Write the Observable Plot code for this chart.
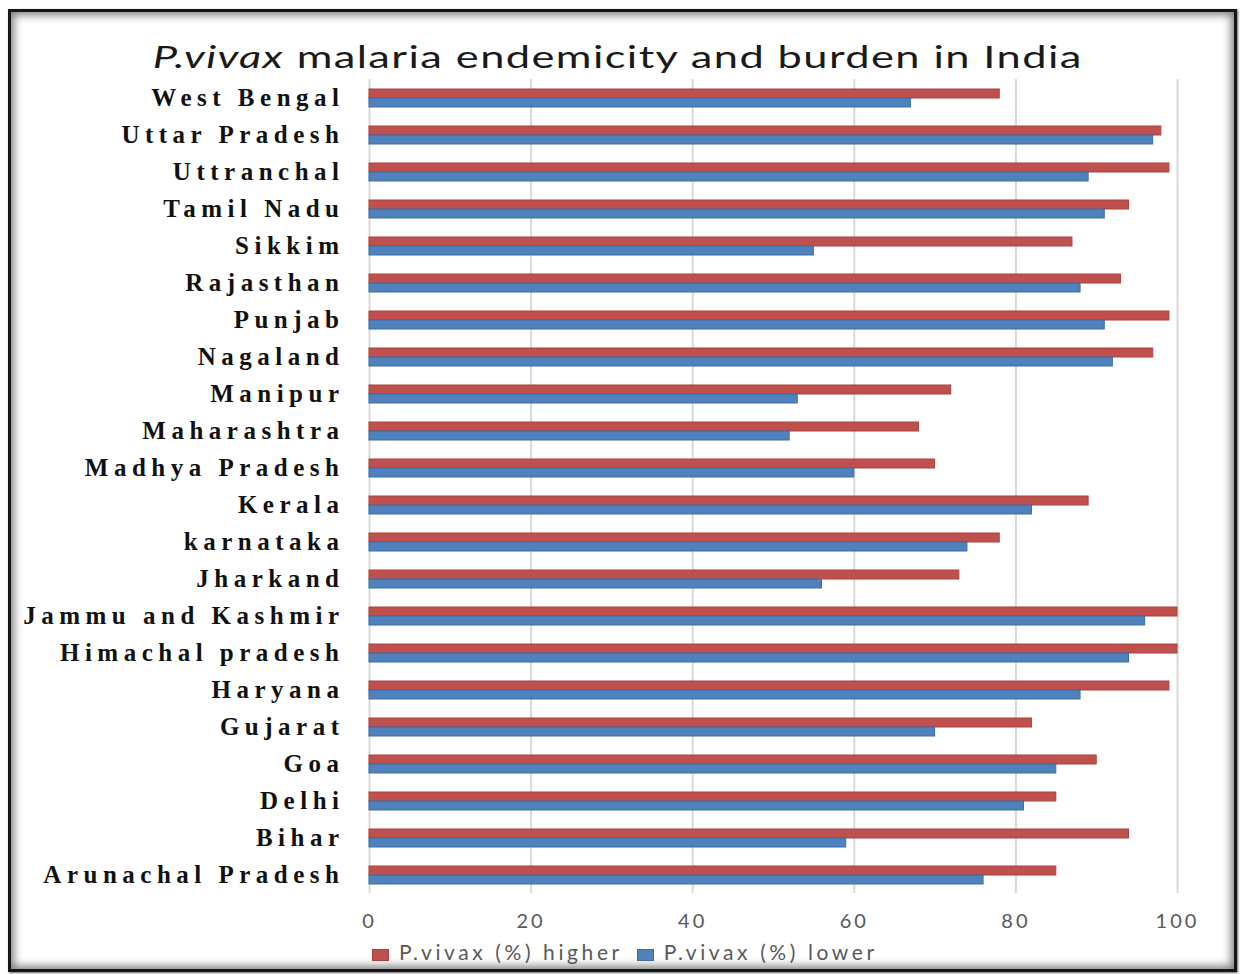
<!DOCTYPE html>
<html>
<head>
<meta charset="utf-8">
<script src="https://cdn.jsdelivr.net/npm/d3@7"></script>
<script src="https://cdn.jsdelivr.net/npm/@observablehq/plot@0.6"></script>
<style>
  html, body { margin: 0; padding: 0; background: #fff; }
  #frame {
    position: absolute; left: 8px; top: 9px; width: 1229px; height: 963px;
    box-sizing: border-box; border: 3px solid #161616;
    box-shadow: inset 0 0 9px 3px rgba(0,0,0,0.5), 1px 1px 2px rgba(0,0,0,0.6);
    background: #fff;
  }
  #title {
    position: absolute; left: 0; top: 36px; width: 1235px; text-align: center;
    font-family: Lato, "Open Sans", sans-serif; font-size: 31px; line-height: 40px;
    letter-spacing: 1px; color: #1a1a1a; white-space: nowrap;
    transform: scaleX(1.4); transform-origin: 617px 0;
  }
  #chart { position: absolute; left: 0; top: 0; }
  #legend {
    position: absolute; left: 372px; top: 940px;
    font-family: Lato, "Open Sans", sans-serif; font-size: 21px; line-height: 24px;
    letter-spacing: 3.6px; color: #595959; white-space: nowrap;
  }
  #legend .sw {
    display: inline-block; width: 17px; height: 12px; margin-right: 10px;
    vertical-align: -1px; box-sizing: border-box;
  }
  #legend .item { margin-right: 14px; }
  g[aria-label="fy-axis tick label"] text { letter-spacing: 5.5px; }
  g[aria-label="x-axis tick label"] text { letter-spacing: 3px; }
</style>
</head>
<body>
<div id="frame"></div>
<div id="chart"></div>
<div id="title"><i>P.vivax</i> malaria endemicity and burden in India</div>
<div id="legend"></div>
<script>
// States, top to bottom
const states = [
  "West Bengal", "Uttar Pradesh", "Uttranchal", "Tamil Nadu", "Sikkim",
  "Rajasthan", "Punjab", "Nagaland", "Manipur", "Maharashtra",
  "Madhya Pradesh", "Kerala", "karnataka", "Jharkand", "Jammu and Kashmir",
  "Himachal pradesh", "Haryana", "Gujarat", "Goa", "Delhi", "Bihar",
  "Arunachal Pradesh"
];

// P. vivax share of malaria cases (%), upper and lower estimates
const higher = [78, 98, 99, 94, 87, 93, 99, 97, 72, 68, 70, 89, 78, 73, 100, 100, 99, 82, 90, 85, 94, 85];
const lower  = [67, 97, 89, 91, 55, 88, 91, 92, 53, 52, 60, 82, 74, 56, 96, 94, 88, 70, 85, 81, 59, 76];

const seriesNames = ["P.vivax (%) higher", "P.vivax (%) lower"];
const fills   = ["#C0504D", "#4F81BD"];
const strokes = ["#A9423F", "#3E6DA3"];
const xTicks  = [0, 20, 40, 60, 80, 100];

const rows = states.flatMap((s, i) => [
  {state: s, series: seriesNames[0], value: higher[i]},
  {state: s, series: seriesNames[1], value: lower[i]}
]);

const chart = Plot.plot({
  width: 1241,
  height: 940,
  marginLeft: 369,
  marginRight: 64,
  marginTop: 78,
  marginBottom: 47,
  style: {background: "transparent", overflow: "visible"},
  x: {domain: [0, 100]},
  y: {domain: seriesNames, paddingInner: 0, paddingOuter: 0.9, axis: null},
  fy: {domain: states, padding: 0, label: null},
  marks: [
    Plot.gridX(xTicks, {stroke: "#d9d9d9", strokeOpacity: 1, strokeWidth: 2}),
    ...seriesNames.map((name, k) =>
      Plot.barX(rows.filter(d => d.series === name), {
        x: "value", y: "series", fy: "state",
        fill: fills[k], stroke: strokes[k], strokeWidth: 1
      })
    ),
    Plot.axisX(xTicks, {
      anchor: "bottom", tickSize: 0, tickPadding: 20, label: null,
      fontSize: 20, fontFamily: "Lato, sans-serif", fill: "#595959"
    }),
    Plot.axisFy({
      anchor: "left", tickSize: 0, tickPadding: 25, label: null,
      fontSize: 25, fontFamily: "Liberation Serif, serif", fontWeight: "bold",
      fill: "#111"
    })
  ]
});
document.getElementById("chart").append(chart);

// Legend below the axis
const legend = d3.select("#legend");
seriesNames.forEach((name, k) => {
  const item = legend.append("span").attr("class", "item");
  item.append("span").attr("class", "sw")
    .style("background", fills[k]).style("border", `1px solid ${strokes[k]}`);
  item.append("span").text(name);
});
</script>
</body>
</html>
